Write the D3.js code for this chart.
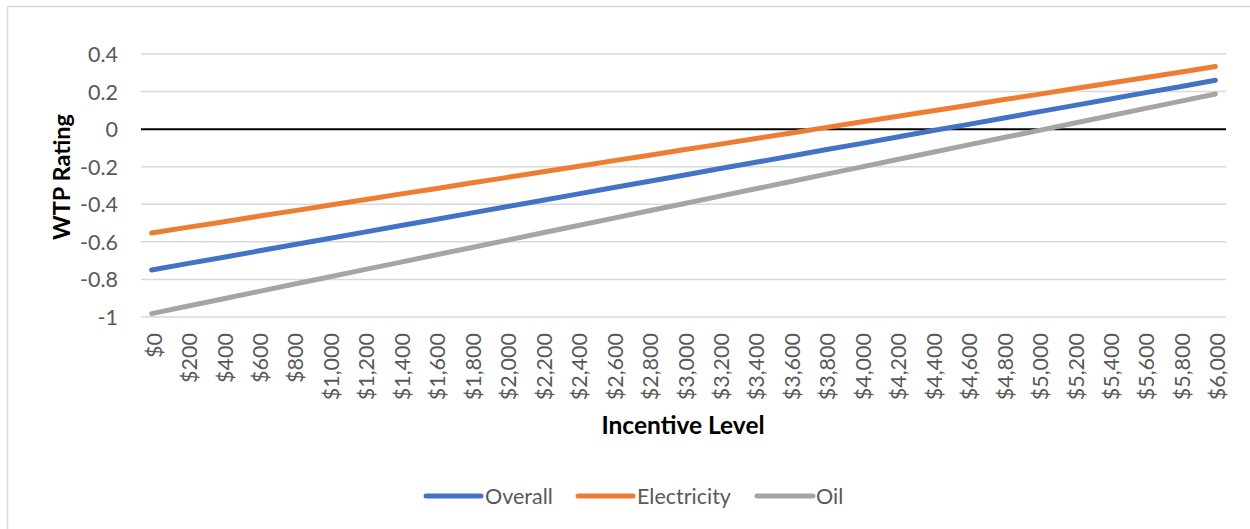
<!DOCTYPE html>
<html>
<head>
<meta charset="utf-8">
<script src="https://cdn.jsdelivr.net/npm/d3@7"></script>
<style>
  html, body { margin: 0; padding: 0; background: #fff; }
  svg { display: block; }
  text { font-family: Lato, "Open Sans", sans-serif; }
</style>
</head>
<body>
<svg id="chart" width="1250" height="529"></svg>
<script>
// Incentive levels ($0 – $6,000 in $200 steps)
const incentives = [0, 200, 400, 600, 800, 1000, 1200, 1400, 1600, 1800, 2000,
  2200, 2400, 2600, 2800, 3000, 3200, 3400, 3600, 3800, 4000,
  4200, 4400, 4600, 4800, 5000, 5200, 5400, 5600, 5800, 6000];

// Willingness-to-pay rating by incentive level
const overall = [-0.750, -0.716, -0.683, -0.649, -0.615, -0.582, -0.548, -0.514, -0.481, -0.447, -0.413,
  -0.380, -0.346, -0.312, -0.279, -0.245, -0.211, -0.178, -0.144, -0.110, -0.077,
  -0.043, -0.009, 0.024, 0.058, 0.092, 0.125, 0.159, 0.193, 0.226, 0.260];
const electricity = [-0.553, -0.523, -0.494, -0.464, -0.435, -0.405, -0.376, -0.346, -0.317, -0.287, -0.258,
  -0.228, -0.199, -0.169, -0.140, -0.110, -0.081, -0.051, -0.022, 0.008, 0.038,
  0.067, 0.097, 0.126, 0.156, 0.185, 0.215, 0.244, 0.274, 0.303, 0.333];
const oil = [-0.982, -0.943, -0.904, -0.865, -0.826, -0.787, -0.748, -0.709, -0.670, -0.631, -0.592,
  -0.553, -0.514, -0.475, -0.436, -0.397, -0.358, -0.319, -0.280, -0.241, -0.202,
  -0.163, -0.124, -0.085, -0.046, -0.008, 0.031, 0.070, 0.109, 0.148, 0.187];

const yTicks = [0.4, 0.2, 0, -0.2, -0.4, -0.6, -0.8, -1];

const seriesNames = ["Overall", "Electricity", "Oil"];
const seriesColors = ["#4472C4", "#ED7D31", "#A5A5A5"];
const seriesValues = [overall, electricity, oil];

const svg = d3.select("#chart");

// Chart frame
svg.append("rect")
  .attr("x", 7.5).attr("y", 6.5)
  .attr("width", 1260).attr("height", 540)
  .attr("fill", "#fff")
  .attr("stroke", "#d9d9d9").attr("stroke-width", 1.5);

const plot = { left: 141, right: 1226, top: 54, bottom: 317 };

const x = d3.scalePoint()
  .domain(incentives)
  .range([plot.left, plot.right])
  .padding(0.3);

const y = d3.scaleLinear()
  .domain([-1, 0.4])
  .range([plot.bottom, plot.top]);

const fmtMoney = d => "$" + d3.format(",")(d);
const fmtY = d => (d === 0 ? "0" : String(+d.toFixed(1)));

// Gridlines
svg.append("g")
  .selectAll("line")
  .data(yTicks.filter(t => t !== 0))
  .join("line")
  .attr("x1", plot.left).attr("x2", plot.right)
  .attr("y1", d => y(d)).attr("y2", d => y(d))
  .attr("stroke", "#d9d9d9").attr("stroke-width", 1.5);

// Y axis labels
const yAxis = d3.axisLeft(y)
  .tickValues(yTicks)
  .tickSize(0)
  .tickPadding(0)
  .tickFormat(fmtY);
const gy = svg.append("g")
  .attr("transform", `translate(118,0)`)
  .call(yAxis);
gy.select(".domain").remove();
gy.selectAll("text")
  .attr("fill", "#595959")
  .style("font-size", "21.5px")
  .attr("dy", "0.35em");

// X axis labels (rotated)
const xAxis = d3.axisBottom(x)
  .tickSize(0)
  .tickPadding(0)
  .tickFormat(fmtMoney);
const gx = svg.append("g")
  .attr("transform", `translate(0,${plot.bottom})`)
  .call(xAxis);
gx.select(".domain").remove();
gx.selectAll("text")
  .attr("fill", "#595959")
  .style("font-size", "21.5px")
  .attr("text-anchor", "end")
  .attr("transform", "rotate(-90)")
  .attr("x", -16)
  .attr("y", 2)
  .attr("dy", "0.35em");

// Zero line
svg.append("line")
  .attr("x1", plot.left).attr("x2", plot.right)
  .attr("y1", y(0)).attr("y2", y(0))
  .attr("stroke", "#000").attr("stroke-width", 2);

// Series lines
const line = d3.line()
  .x((d, i) => x(incentives[i]))
  .y(d => y(d));

svg.append("g")
  .selectAll("path")
  .data(seriesValues)
  .join("path")
  .attr("d", d => line(d))
  .attr("fill", "none")
  .attr("stroke", (d, i) => seriesColors[i])
  .attr("stroke-width", 5)
  .attr("stroke-linecap", "round")
  .attr("stroke-linejoin", "round");

// Axis titles
svg.append("text")
  .attr("x", 683).attr("y", 425)
  .attr("dy", "0.35em")
  .attr("text-anchor", "middle")
  .attr("fill", "#000")
  .style("font-size", "24.5px")
  .style("font-weight", "bold")
  .text("Incentive Level");

svg.append("text")
  .attr("transform", "translate(62,177) rotate(-90)")
  .attr("dy", "0.35em")
  .attr("text-anchor", "middle")
  .attr("fill", "#000")
  .style("font-size", "23.5px")
  .style("font-weight", "bold")
  .text("WTP Rating");

// Legend
const legendItems = [
  { x1: 426, x2: 481, tx: 485 },
  { x1: 578, x2: 633, tx: 637 },
  { x1: 757, x2: 813, tx: 816 }
];
const legendY = 496;
const lg = svg.append("g")
  .selectAll("g")
  .data(seriesNames)
  .join("g");
lg.append("line")
  .attr("x1", (d, i) => legendItems[i].x1)
  .attr("x2", (d, i) => legendItems[i].x2)
  .attr("y1", legendY).attr("y2", legendY)
  .attr("stroke", (d, i) => seriesColors[i])
  .attr("stroke-width", 5)
  .attr("stroke-linecap", "round");
lg.append("text")
  .attr("x", (d, i) => legendItems[i].tx)
  .attr("y", legendY)
  .attr("dy", "0.35em")
  .attr("fill", "#595959")
  .style("font-size", "21.5px")
  .text(d => d);
</script>
</body>
</html>
